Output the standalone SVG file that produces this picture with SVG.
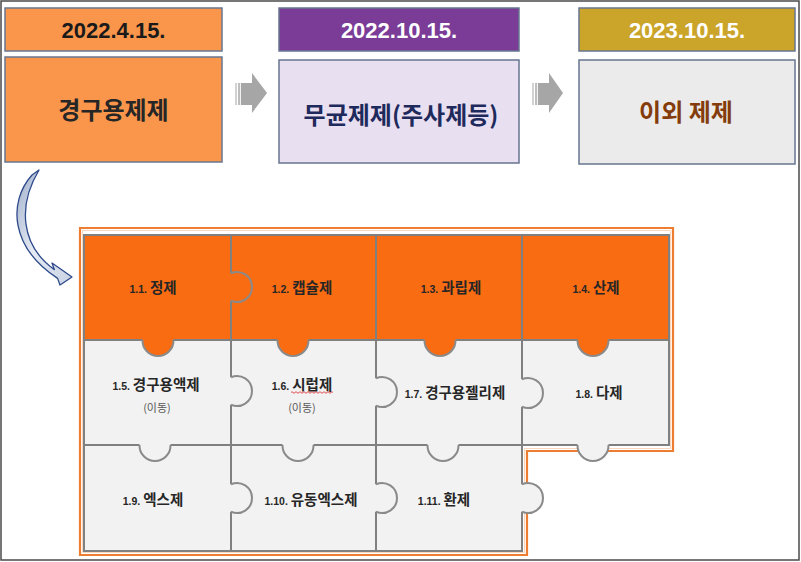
<svg xmlns="http://www.w3.org/2000/svg" width="801" height="562" viewBox="0 0 801 562">
<style>
.box{stroke:#687690;stroke-width:1.5}
.date{font-family:"Liberation Sans","Noto Sans CJK KR",sans-serif;font-weight:700;font-size:22px;text-anchor:middle}
.main{font-family:"Noto Sans CJK KR",sans-serif;font-weight:700;font-size:24px;text-anchor:middle}
.lbl{font-family:"Noto Sans CJK KR",sans-serif;font-weight:700;font-size:14.5px;text-anchor:middle;fill:#262626}
.num{font-family:"Liberation Sans",sans-serif;font-weight:700;font-size:10.5px}
.sub{font-family:"Noto Sans CJK KR",sans-serif;font-size:11px;text-anchor:middle;fill:#595959}
.grid{fill:none;stroke:#808080;stroke-width:2}
.arc{fill:none;stroke:#8A8A8A;stroke-width:2}
.ko{fill:#FA6C12}
.kg{fill:#F2F2F2}
.blk{fill:#A6A6A6}
</style>
<defs>
<path id="kvf" d="M-15.49,-2 V0 A15.5,15.5 0 1 0 15.49,0 V-2 Z"/>
<path id="kva" d="M-15.49,0 A15.5,15.5 0 1 0 15.49,0"/>
<path id="khf" d="M-2,-13.75 H0 A15,15 0 1 1 0,13.75 H-2 Z"/>
<path id="kha" d="M0,-13.75 A15,15 0 1 1 0,13.75"/>
<linearGradient id="cg" x1="0" y1="0" x2="1" y2="1">
<stop offset="0" stop-color="#9FAFCB"/>
<stop offset="0.5" stop-color="#E6EBF3"/>
<stop offset="1" stop-color="#C9D2E3"/>
</linearGradient>
</defs>
<rect x="0" y="0" width="801" height="562" fill="#FFFFFF"/>
<rect x="1" y="1" width="798" height="559" fill="none" stroke="#4A4A4A" stroke-width="1.5"/>

<g id="date1">
<rect class="box" x="5" y="8" width="217" height="43" fill="#F9964C"/>
<text class="date" x="113.5" y="38" fill="#1A1A1A">2022.4.15.</text>
</g>
<g id="stage1">
<rect class="box" x="5" y="57" width="217" height="105" fill="#F9964C"/>
<text class="main" x="113.5" y="119" fill="#262626">경구용제제</text>
</g>
<g id="date2">
<rect class="box" x="279" y="8" width="240" height="43" fill="#7A3C97"/>
<text class="date" x="399" y="38" fill="#FFFFFF">2022.10.15.</text>
</g>
<g id="stage2">
<rect class="box" x="279" y="60" width="240" height="103" fill="#E8DFF1"/>
<text class="main" x="401" y="124" fill="#1F2A5C">무균제제(주사제등)</text>
</g>
<g id="date3">
<rect class="box" x="579" y="8" width="216" height="43" fill="#CBA42A"/>
<text class="date" x="687" y="38" fill="#FFFFFF">2023.10.15.</text>
</g>
<g id="stage3">
<rect class="box" x="579" y="60" width="216" height="104" fill="#EBEBEB"/>
<text class="main" x="686" y="121" fill="#843C0C">이외 제제</text>
</g>

<g id="connectors">
<g id="arrow1">
<rect x="235" y="83" width="2" height="22" fill="#D2D2D2"/>
<rect x="238" y="83" width="2.2" height="22" fill="#BEBEBE"/>
<rect class="blk" x="241" y="83" width="12" height="22"/>
<polygon class="blk" points="252,73 267,93 252,113"/>
</g>
<g id="arrow2">
<rect x="532" y="83" width="2" height="22" fill="#D2D2D2"/>
<rect x="535" y="83" width="2.2" height="22" fill="#BEBEBE"/>
<rect class="blk" x="538" y="83" width="12" height="22"/>
<polygon class="blk" points="549,73 563,93 549,113"/>
</g>
<path id="curve" d="M39,170 L32,175 C8,202 10,247 57.6,278.4 L60,285 L72,277 L52,263 L54.4,269.6 C20,245 18,205 39,170 Z" fill="url(#cg)" stroke="#2E4A8C" stroke-width="1.3" stroke-linejoin="round"/>
</g>

<g id="frame">
<path d="M80,228 H673 V451 H527 V555 H80 Z" fill="none" stroke="#ED7D31" stroke-width="2.2"/>
<path d="M82.5,230.5 H670.5 V448.5 H524.5 V552.5 H82.5 Z" fill="none" stroke="#F8CBAD" stroke-width="0.8"/>
</g>

<g id="puzzle">
<rect x="84" y="235" width="585" height="105" fill="#FA6C12"/>
<rect x="84" y="340" width="585" height="105" fill="#F2F2F2"/>
<rect x="84" y="445" width="438" height="106" fill="#F2F2F2"/>
<path class="grid" d="M84,235 H669 V445 H522 V551 H84 Z M231,235 V551 M376,235 V551 M522,235 V445 M84,340 H669 M84,445 H522"/>
<g id="knobs">
<use href="#kvf" class="ko" x="158" y="340"/><use href="#kva" class="arc" x="158" y="340"/>
<use href="#kvf" class="ko" x="293" y="340"/><use href="#kva" class="arc" x="293" y="340"/>
<use href="#kvf" class="ko" x="440" y="340"/><use href="#kva" class="arc" x="440" y="340"/>
<use href="#kvf" class="ko" x="593" y="340"/><use href="#kva" class="arc" x="593" y="340"/>
<use href="#kvf" class="kg" x="155" y="445"/><use href="#kva" class="arc" x="155" y="445"/>
<use href="#kvf" class="kg" x="298" y="445"/><use href="#kva" class="arc" x="298" y="445"/>
<use href="#kvf" class="kg" x="443" y="445"/><use href="#kva" class="arc" x="443" y="445"/>
<use href="#kvf" class="kg" x="593" y="445"/><use href="#kva" class="arc" x="593" y="445"/>
<use href="#khf" class="ko" x="231" y="287"/><use href="#kha" class="arc" x="231" y="287"/>
<use href="#khf" class="kg" x="231" y="391"/><use href="#kha" class="arc" x="231" y="391"/>
<use href="#khf" class="kg" x="376" y="392"/><use href="#kha" class="arc" x="376" y="392"/>
<use href="#khf" class="kg" x="522" y="393"/><use href="#kha" class="arc" x="522" y="393"/>
<use href="#khf" class="kg" x="231" y="498"/><use href="#kha" class="arc" x="231" y="498"/>
<use href="#khf" class="kg" x="376" y="498"/><use href="#kha" class="arc" x="376" y="498"/>
<use href="#khf" class="kg" x="522" y="498"/><use href="#kha" class="arc" x="522" y="498"/>
</g>
</g>

<g id="p11"><text class="lbl" x="153" y="293"><tspan class="num">1.1. </tspan>정제</text></g>
<g id="p12"><text class="lbl" x="302" y="293"><tspan class="num">1.2. </tspan>캡슐제</text></g>
<g id="p13"><text class="lbl" x="451" y="293"><tspan class="num">1.3. </tspan>과립제</text></g>
<g id="p14"><text class="lbl" x="596" y="293"><tspan class="num">1.4. </tspan>산제</text></g>
<g id="p15"><text class="lbl" x="156" y="390"><tspan class="num">1.5. </tspan>경구용액제</text><text class="sub" x="157" y="412">(이동)</text></g>
<g id="p16"><text class="lbl" x="302" y="390"><tspan class="num">1.6. </tspan>시럽제</text><text class="sub" x="302" y="412">(이동)</text>
<path d="M291,392.5 q1,-1.6 2,0 t2,0 t2,0 t2,0 t2,0 t2,0 t2,0 t2,0 t2,0 t2,0 t2,0 t2,0 t2,0 t2,0 t2,0 t2,0 t2,0 t2,0 t2,0 t2,0 t2,0" fill="none" stroke="#E03A3A" stroke-width="0.9"/></g>
<g id="p17"><text class="lbl" x="455" y="398"><tspan class="num">1.7. </tspan>경구용젤리제</text></g>
<g id="p18"><text class="lbl" x="599" y="398"><tspan class="num">1.8. </tspan>다제</text></g>
<g id="p19"><text class="lbl" x="153" y="505"><tspan class="num">1.9. </tspan>엑스제</text></g>
<g id="p110"><text class="lbl" x="311" y="505"><tspan class="num">1.10. </tspan>유동엑스제</text></g>
<g id="p111"><text class="lbl" x="444" y="505"><tspan class="num">1.11. </tspan>환제</text></g>
</svg>
